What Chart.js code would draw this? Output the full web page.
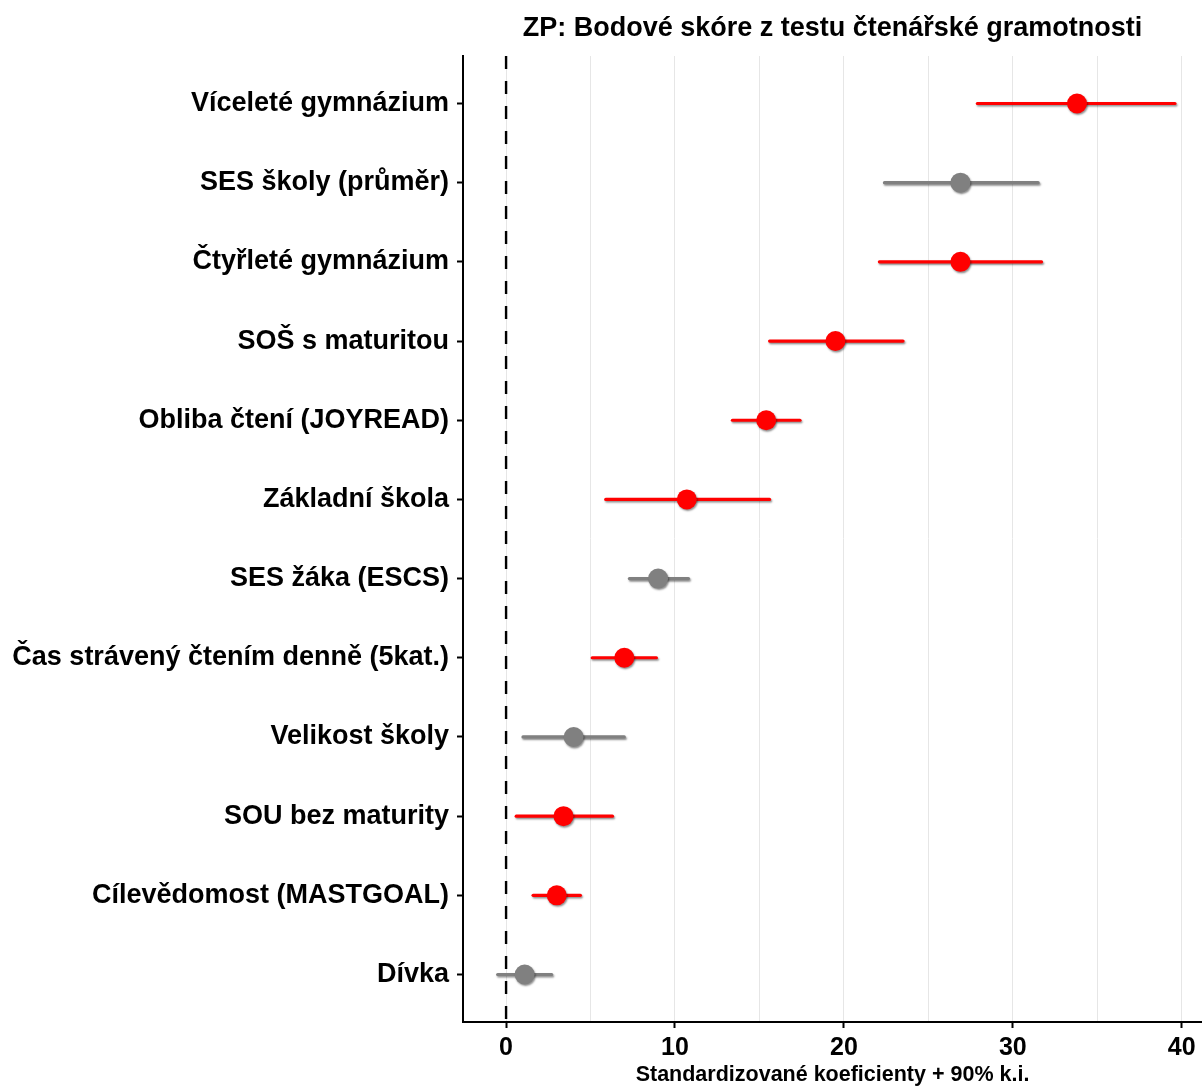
<!DOCTYPE html>
<html>
<head>
<meta charset="utf-8">
<script src="https://cdn.jsdelivr.net/npm/chart.js@4/dist/chart.umd.min.js"></script>
<style>
  html, body { margin: 0; padding: 0; background: #ffffff; overflow: hidden; }
  #wrap { width: 1202px; height: 1086px; position: relative; }
  #c { display: block; }
</style>
</head>
<body>
<div id="wrap"><canvas id="c"></canvas></div>
<script>
// ---- data (top to bottom) ----
const categories = [
  'Víceleté gymnázium',
  'SES školy (průměr)',
  'Čtyřleté gymnázium',
  'SOŠ s maturitou',
  'Obliba čtení (JOYREAD)',
  'Základní škola',
  'SES žáka (ESCS)',
  'Čas strávený čtením denně (5kat.)',
  'Velikost školy',
  'SOU bez maturity',
  'Cílevědomost (MASTGOAL)',
  'Dívka'
];
const estimate = [33.8, 26.9, 26.9, 19.5, 15.4, 10.7, 9.0, 7.0, 4.0, 3.4, 3.0, 1.1];
const lower    = [27.9, 22.4, 22.1, 15.6, 13.4, 5.9, 7.3, 5.1, 1.0, 0.6, 1.6, -0.5];
const upper    = [39.6, 31.5, 31.7, 23.5, 17.4, 15.6, 10.8, 8.9, 7.0, 6.3, 4.4, 2.7];
const significant = [1, 0, 1, 1, 1, 1, 0, 1, 0, 1, 1, 0];
const xTickLabels = [0, 10, 20, 30, 40];
const xGridValues = [0, 5, 10, 15, 20, 25, 30, 35, 40];
const referenceValue = 0;

const titleText = 'ZP: Bodové skóre z testu čtenářské gramotnosti';
const xTitleText = 'Standardizované koeficienty + 90% k.i.';

const RED = '#ff0000';
const GREY = '#808080';
const FONT = "'Liberation Sans', Arial, sans-serif";
const colorOf = i => significant[i] ? RED : GREY;

// ---- datasets ----
const datasets = [];
datasets.push({
  type: 'scatter',
  label: 'estimate',
  data: estimate.map((v, i) => ({ x: v, y: i + 1 })),
  pointRadius: 10,
  pointHoverRadius: 10,
  pointBackgroundColor: estimate.map((_, i) => colorOf(i)),
  pointBorderWidth: 0,
  showLine: false,
  order: 0
});
categories.forEach((c, i) => {
  datasets.push({
    type: 'line',
    label: 'ci ' + c,
    data: [{ x: lower[i], y: i + 1 }, { x: upper[i], y: i + 1 }],
    borderColor: colorOf(i),
    borderWidth: 3.2,
    borderCapStyle: 'round',
    pointRadius: 0,
    fill: false,
    order: 1
  });
});
datasets.push({
  type: 'line',
  label: 'zero',
  data: [{ x: referenceValue, y: 0.4 }, { x: referenceValue, y: 12.6 }],
  borderColor: '#000000',
  borderWidth: 2.4,
  borderDash: [13, 12],
  pointRadius: 0,
  fill: false,
  order: 2,
  noShadow: true
});

const shadowPlugin = {
  id: 'shadow',
  beforeDatasetDraw(chart, args) {
    const ds = chart.data.datasets[args.index];
    if (ds.noShadow) return;
    const ctx = chart.ctx;
    ctx.save();
    ctx.shadowColor = 'rgba(0,0,0,0.45)';
    ctx.shadowBlur = 2;
    ctx.shadowOffsetX = 1;
    ctx.shadowOffsetY = 1.5;
    args.meta._shadowed = true;
  },
  afterDatasetDraw(chart, args) {
    if (args.meta._shadowed) {
      chart.ctx.restore();
      args.meta._shadowed = false;
    }
  }
};

new Chart(document.getElementById('c'), {
  type: 'scatter',
  data: { datasets },
  plugins: [shadowPlugin],
  options: {
    responsive: true,
    maintainAspectRatio: false,
    animation: false,
    layout: { autoPadding: false, padding: { left: 0, right: 0, top: 0, bottom: 0 } },
    plugins: {
      legend: { display: false },
      tooltip: { enabled: false },
      title: {
        display: true,
        text: titleText,
        fullSize: false,
        color: '#000000',
        font: { family: FONT, size: 27, weight: 'bold', lineHeight: 1 },
        padding: { top: 15, bottom: 14 }
      }
    },
    scales: {
      x: {
        type: 'linear',
        min: -2.55,
        max: 41.2,
        afterBuildTicks: s => { s.ticks = xGridValues.map(v => ({ value: v })); },
        afterFit: s => { s.height = 64; s.paddingRight = 0; s.paddingLeft = 0; },
        ticks: {
          autoSkip: false,
          maxRotation: 0,
          color: '#000000',
          padding: 5,
          font: { family: FONT, size: 25, weight: 'bold', lineHeight: 1.2 },
          callback: v => xTickLabels.includes(v) ? String(v) : ''
        },
        grid: {
          color: '#e6e6e6',
          lineWidth: 1,
          drawTicks: true,
          tickLength: 6,
          tickWidth: 2,
          tickColor: ctx => (ctx.tick && xTickLabels.includes(ctx.tick.value)) ? '#000000' : 'rgba(0,0,0,0)'
        },
        border: { display: true, color: '#000000', width: 2 },
        title: {
          display: true,
          text: xTitleText,
          color: '#000000',
          font: { family: FONT, size: 21.5, weight: 'bold', lineHeight: 1 },
          padding: { top: 0, bottom: 0 }
        }
      },
      y: {
        type: 'linear',
        min: 0.4,
        max: 12.6,
        reverse: true,
        afterBuildTicks: s => { s.ticks = categories.map((_, i) => ({ value: i + 1 })); },
        afterFit: s => { s.width = 463; s.paddingTop = 0; s.paddingBottom = 0; },
        ticks: {
          autoSkip: false,
          color: '#000000',
          padding: 8,
          font: { family: FONT, size: 27, weight: 'bold' },
          callback: (v, i) => categories[i]
        },
        grid: {
          drawOnChartArea: false,
          drawTicks: true,
          tickLength: 6,
          tickWidth: 2,
          tickColor: '#000000'
        },
        border: { display: true, color: '#000000', width: 2 }
      }
    }
  }
});
</script>
</body>
</html>
